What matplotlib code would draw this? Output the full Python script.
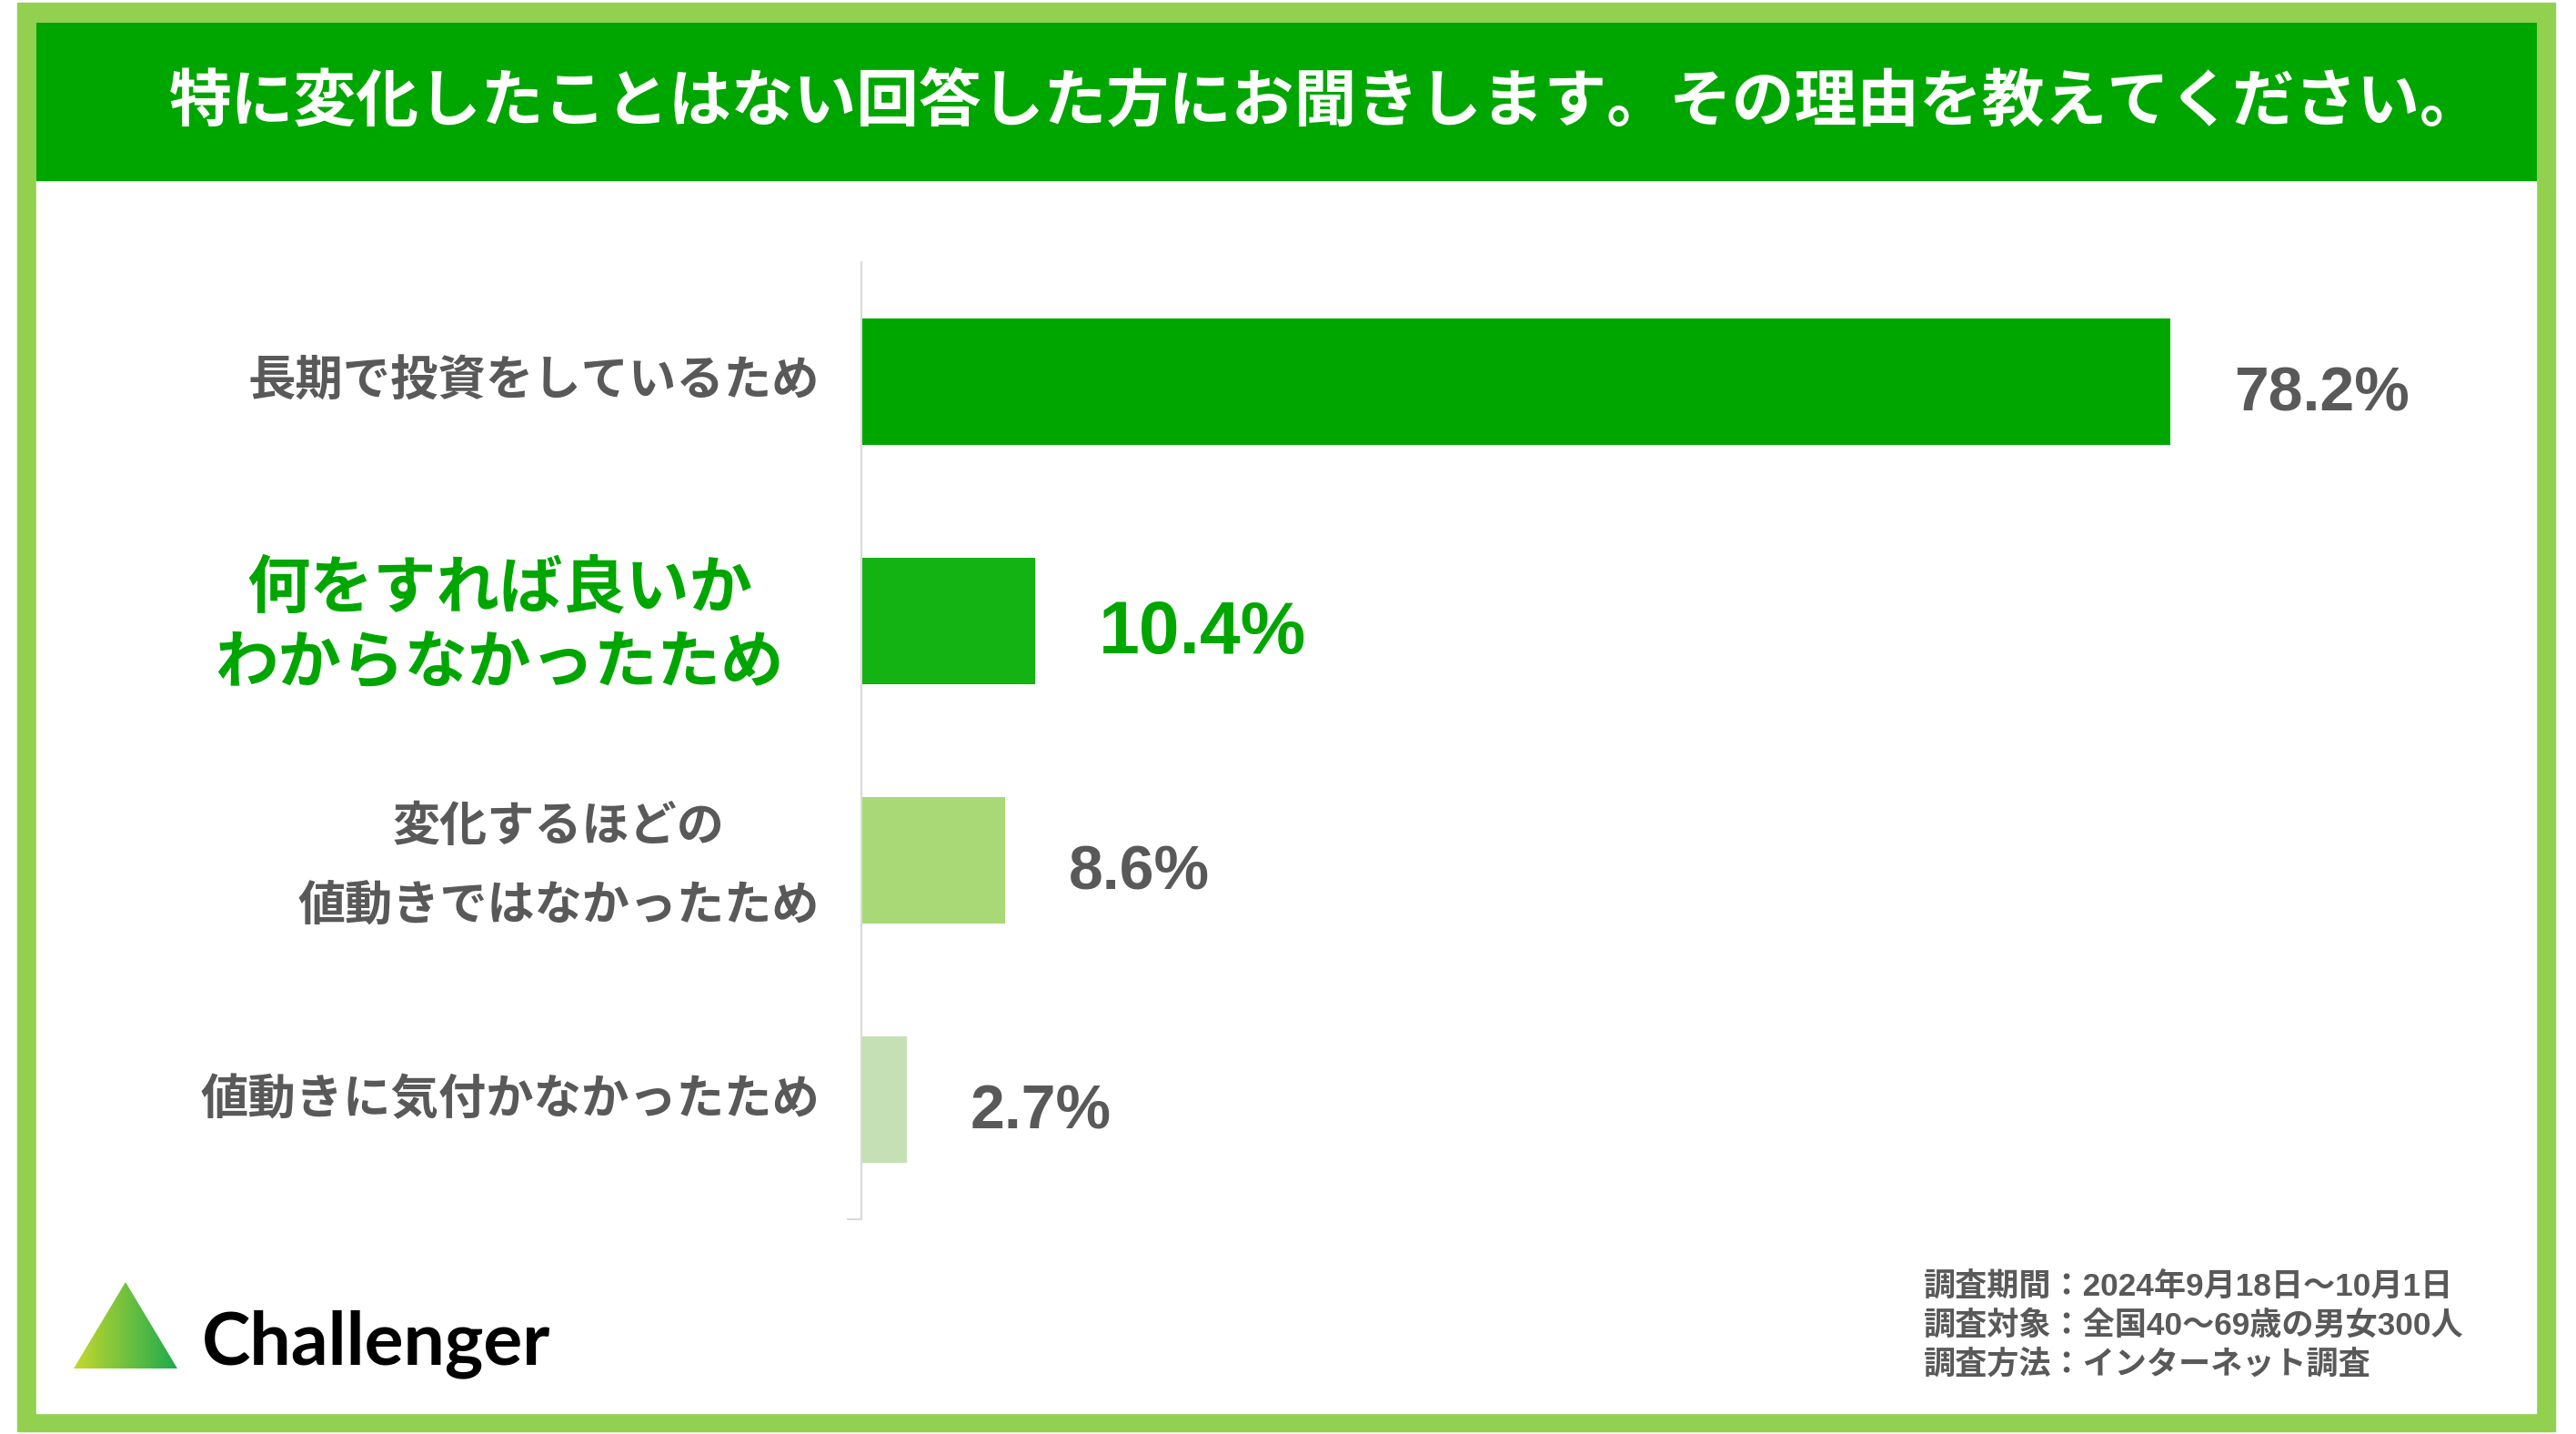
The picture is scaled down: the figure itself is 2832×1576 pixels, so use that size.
import numpy as np
import matplotlib.pyplot as plt
from matplotlib.patches import Rectangle, Polygon

# データ
categories = ["長期で投資をしているため",
              "何をすれば良いか\nわからなかったため",
              "変化するほどの\n値動きではなかったため",
              "値動きに気付かなかったため"]
values = [78.2, 10.4, 8.6, 2.7]
bar_colors = ["#00A600", "#12B312", "#A9D977", "#C5E0B4"]
highlight = 1  # 強調する項目

title = "特に変化したことはない回答した方にお聞きします。その理由を教えてください。"
notes = ["調査期間：2024年9月18日〜10月1日",
         "調査対象：全国40〜69歳の男女300人",
         "調査方法：インターネット調査"]

GREEN = "#00A600"
FRAME = "#92D050"
GRAY = "#595959"
W, H = 2832, 1576
JP = ["Noto Sans CJK JP", "DejaVu Sans"]

fig = plt.figure(figsize=(W / 100, H / 100), dpi=100)
fig.patch.set_facecolor("white")

def fx(x):
    return x / W

def fy(y):
    return 1 - y / H

# 枠とヘッダー
fig.patches.append(Rectangle((fx(19), fy(1573)), fx(2809 - 19), (1573 - 3) / H,
                             transform=fig.transFigure, color=FRAME, zorder=-3))
fig.patches.append(Rectangle((fx(40), fy(1553)), fx(2788 - 40), (1553 - 25) / H,
                             transform=fig.transFigure, color="white", zorder=-2))
fig.patches.append(Rectangle((fx(40), fy(198)), fx(2788 - 40), (198 - 25) / H,
                             transform=fig.transFigure, color=GREEN, zorder=-1))
fig.text(fx(1458), fy(112), title, family=JP, fontsize=49.5, fontweight="bold",
         color="white", ha="center", va="center")

# 棒グラフ
ax = fig.add_axes([fx(947), fy(1340), 1840 / W, (1340 - 288) / H])
ax.set_facecolor("none")
y = np.arange(len(values))
ax.barh(y, values, height=0.53, color=bar_colors, zorder=2)
ax.set_xlim(0, 100)
ax.set_ylim(len(values) - 0.5, -0.5)
for s in ["top", "right", "bottom"]:
    ax.spines[s].set_visible(False)
ax.spines["left"].set_color("#D9D9D9")
ax.spines["left"].set_linewidth(1.5)
ax.set_xticks([])
ax.set_yticks([])
ax.set_yticks([len(values) - 0.5], minor=True)
ax.tick_params(axis="y", which="minor", length=11.5, width=1.5, color="#D9D9D9")
ax.set_yticklabels([], minor=True)

# 項目ラベル
for i, cat in enumerate(categories):
    lines = cat.split("\n")
    if i == highlight:
        size, color, gap, xoff = 50, GREEN, 83, -398
    elif len(lines) > 1:
        size, color, gap, xoff = 37.5, GRAY, 87, -333
    else:
        size, color, gap, xoff = 37.7, GRAY, 0, -46
    for k, line in enumerate(lines):
        dy = (k - (len(lines) - 1) / 2) * gap + (6 if len(lines) > 1 else 0)
        ax.annotate(line, xy=(0, i), xycoords=("axes fraction", "data"),
                    xytext=(xoff, -dy), textcoords="offset pixels",
                    ha="center" if len(lines) > 1 else "right", va="center",
                    family=JP, fontsize=size, fontweight="bold", color=color)

# 数値ラベル
for i, v in enumerate(values):
    big = i == highlight
    ax.annotate(f"{v:.1f}%", xy=(v, i), xytext=(70, -14), textcoords="offset pixels",
                ha="left", va="center", family=["Liberation Sans", "DejaVu Sans"],
                fontsize=58 if big else 49, fontweight="bold",
                color=GREEN if big else GRAY)

# 注記
for k, n in enumerate(notes):
    fig.text(fx(2115), fy(1414 + 43 * k), n, family=["Liberation Sans"] + JP,
             fontsize=25.3, fontweight="bold", color=GRAY, ha="left", va="center")

# ロゴ
lax = fig.add_axes([fx(81), fy(1504), fx(195 - 81), (1504 - 1409) / H])
lax.set_xlim(0, 1)
lax.set_ylim(0, 1)
lax.axis("off")
grad = np.linspace(0, 1, 256).reshape(1, -1)
cmap = plt.matplotlib.colors.LinearSegmentedColormap.from_list("logo", ["#C5D92D", "#1DAA4E"])
im = lax.imshow(grad, extent=[0, 1, 0, 1], aspect="auto", cmap=cmap)
tri = Polygon([[0, 0], [1, 0], [0.5, 1]], closed=True, transform=lax.transData,
              facecolor="none", edgecolor="none")
lax.add_patch(tri)
im.set_clip_path(tri)
fig.text(fx(222), fy(1499), "Challenger", family=["Lato", "DejaVu Sans"],
         fontsize=58, fontweight="bold", color="black", ha="left", va="baseline")

fig.savefig("out.png", dpi=100)
